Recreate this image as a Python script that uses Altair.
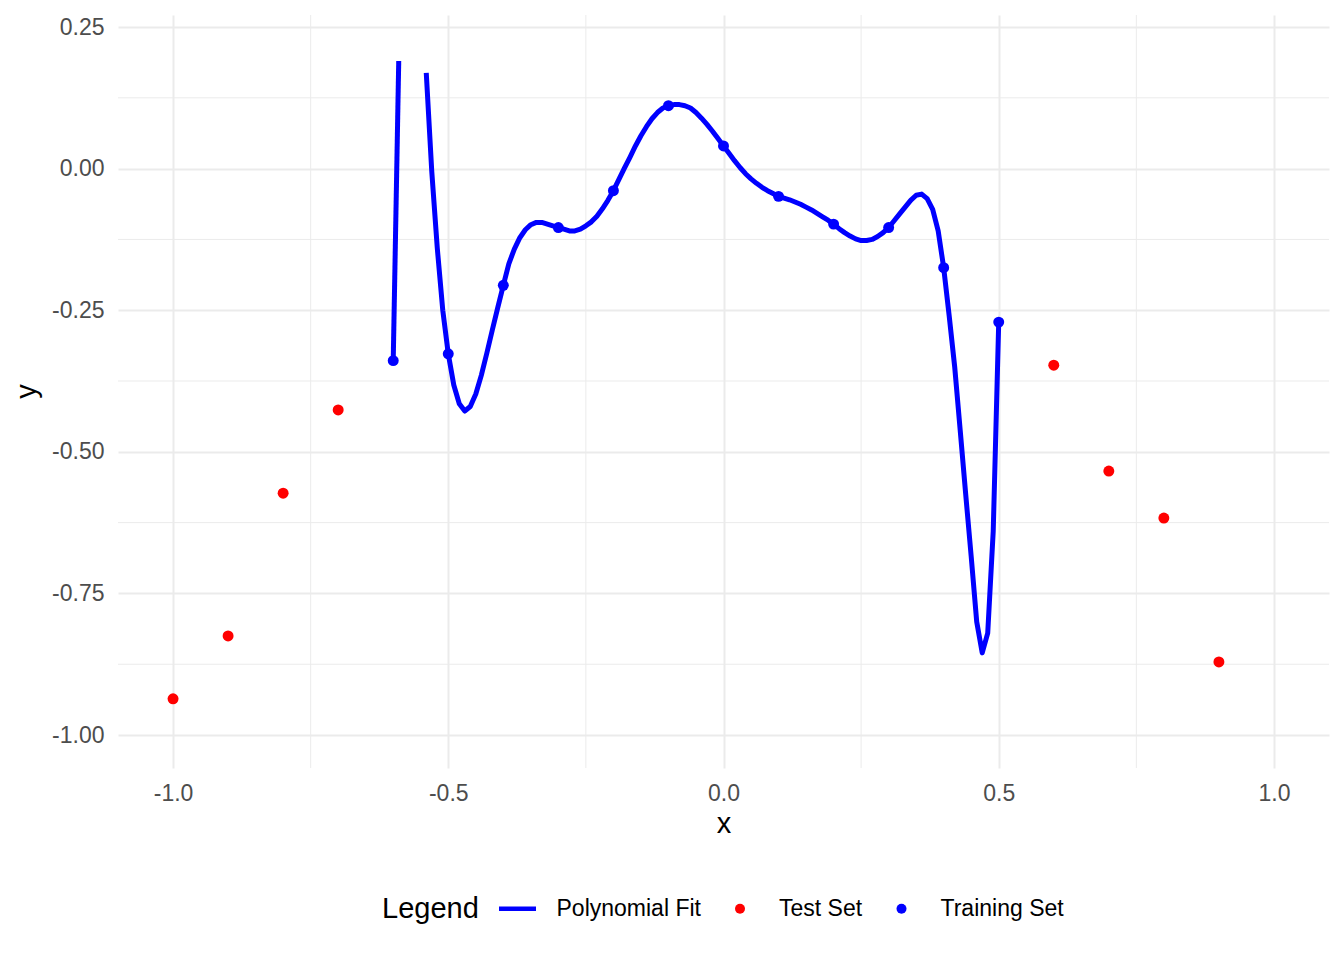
import altair as alt
import pandas as pd

# ---- data ----
train_x = [-0.6, -0.5, -0.4, -0.3, -0.2, -0.1, 0.0, 0.1, 0.2, 0.3, 0.4, 0.5]
train_y = [-0.339, -0.327, -0.206, -0.104, -0.039, 0.111, 0.040, -0.049, -0.098, -0.104, -0.175, -0.271]

test_x = [-1.0, -0.9, -0.8, -0.7, 0.6, 0.7, 0.8, 0.9]
test_y = [-0.936, -0.825, -0.573, -0.426, -0.347, -0.534, -0.617, -0.871]

fit_x = [-0.60, -0.59, -0.58, -0.57, -0.56, -0.55, -0.54, -0.53, -0.52, -0.51,
         -0.50, -0.49, -0.48, -0.47, -0.46, -0.45, -0.44, -0.43, -0.42, -0.41,
         -0.40, -0.39, -0.38, -0.37, -0.36, -0.35, -0.34, -0.33, -0.32, -0.31,
         -0.30, -0.29, -0.28, -0.27, -0.26, -0.25, -0.24, -0.23, -0.22, -0.21,
         -0.20, -0.19, -0.18, -0.17, -0.16, -0.15, -0.14, -0.13, -0.12, -0.11,
         -0.10, -0.09, -0.08, -0.07, -0.06, -0.05, -0.04, -0.03, -0.02, -0.01,
         0.00, 0.01, 0.02, 0.03, 0.04, 0.05, 0.06, 0.07, 0.08, 0.09,
         0.10, 0.11, 0.12, 0.13, 0.14, 0.15, 0.16, 0.17, 0.18, 0.19,
         0.20, 0.21, 0.22, 0.23, 0.24, 0.25, 0.26, 0.27, 0.28, 0.29,
         0.30, 0.31, 0.32, 0.33, 0.34, 0.35, 0.36, 0.37, 0.38, 0.39,
         0.40, 0.41, 0.42, 0.43, 0.44, 0.45, 0.46, 0.47, 0.48, 0.49, 0.50]
# None = value outside the y limits (dropped -> gap in the line)
fit_y = [-0.339, 0.190, None, None, None, None, 0.169, -0.005, -0.140, -0.250,
         -0.327, -0.382, -0.415, -0.428, -0.420, -0.398, -0.365, -0.326, -0.285, -0.245,
         -0.206, -0.168, -0.142, -0.122, -0.108, -0.099, -0.095, -0.095, -0.098, -0.101,
         -0.104, -0.107, -0.110, -0.110, -0.107, -0.101, -0.094, -0.084, -0.071, -0.056,
         -0.039, -0.019, 0.001, 0.020, 0.040, 0.058, 0.074, 0.088, 0.099, 0.107,
         0.111, 0.113, 0.113, 0.111, 0.107, 0.099, 0.089, 0.078, 0.066, 0.053,
         0.040, 0.027, 0.014, 0.002, -0.009, -0.018, -0.026, -0.033, -0.039, -0.044,
         -0.049, -0.052, -0.055, -0.059, -0.063, -0.068, -0.073, -0.079, -0.085, -0.091,
         -0.098, -0.106, -0.113, -0.119, -0.124, -0.127, -0.127, -0.125, -0.120, -0.113,
         -0.104, -0.092, -0.080, -0.068, -0.056, -0.047, -0.045, -0.053, -0.072, -0.110,
         -0.175, -0.260, -0.350, -0.462, -0.575, -0.685, -0.800, -0.855, -0.820, -0.640, -0.271]

x_ticks = [-1.0, -0.5, 0.0, 0.5, 1.0]
y_ticks = [-1.0, -0.75, -0.5, -0.25, 0.0, 0.25]
x_minor = [-0.75, -0.25, 0.25, 0.75]
y_minor = [-0.875, -0.625, -0.375, -0.125, 0.125]

legend_names = ["Polynomial Fit", "Test Set", "Training Set"]
legend_colors = ["#0000FF", "#FF0000", "#0000FF"]
legend_shapes = ["M-3.7,-0.45H3.7V0.45H-3.7Z", "circle", "circle"]

# ---- tables ----
fit_df = pd.DataFrame({"x": fit_x, "y": fit_y})
fit_df["seg"] = fit_df["y"].isna().cumsum()
fit_df = fit_df.dropna()

pts_df = pd.DataFrame({
    "x": test_x + train_x,
    "y": test_y + train_y,
    "set": ["Test Set"] * len(test_x) + ["Training Set"] * len(train_x),
})

GRID = "#EBEBEB"
MINUS = "\u2212"
FONT = "Liberation Sans"

xscale = alt.Scale(domain=[-1.1, 1.1], nice=False, zero=False)
yscale = alt.Scale(domain=[-1.0582, 0.2712], nice=False, zero=False)

xaxis = alt.Axis(
    values=x_ticks, labelExpr=f"replace(format(datum.value, '.1f'), '{MINUS}', '-')",
    grid=True, gridColor=GRID, gridWidth=2, domain=False, ticks=False, tickSize=0,
    labelFontSize=23, labelColor="#4D4D4D", labelPadding=14, labelFont=FONT,
    title="x", titleFontSize=29, titleFontWeight="normal", titleColor="black",
    titleBaseline="alphabetic", titleY=64, titleFont=FONT,
)
yaxis = alt.Axis(
    values=y_ticks, labelExpr=f"replace(format(datum.value, '.2f'), '{MINUS}', '-')",
    grid=True, gridColor=GRID, gridWidth=2, domain=False, ticks=False, tickSize=0,
    labelFontSize=23, labelColor="#4D4D4D", labelPadding=14, labelFont=FONT,
    title="y", titleFontSize=29, titleFontWeight="normal", titleColor="black",
    titleBaseline="alphabetic", titleX=-83, titleY=376, titleAngle=270,
    titleFont=FONT,
)

X = alt.X("x:Q", scale=xscale, axis=xaxis)
Y = alt.Y("y:Q", scale=yscale, axis=yaxis)

leg = alt.Legend(
    title="Legend", orient="none", legendX=264, legendY=882, direction="horizontal",
    titleOrient="left", titleFontSize=29, titleFontWeight="normal", titleColor="black",
    titleFont=FONT, titlePadding=27, titleAnchor="middle", titleBaseline="middle",
    labelFontSize=23, labelColor="black", labelFont=FONT, labelOffset=27.5,
    labelLimit=400, columnPadding=27.5, symbolSize=100, symbolStrokeWidth=0, symbolOpacity=1,
)

minor_x = alt.Chart(pd.DataFrame({"x": x_minor})).mark_rule(
    color=GRID, strokeWidth=1
).encode(x=X)

minor_y = alt.Chart(pd.DataFrame({"y": y_minor})).mark_rule(
    color=GRID, strokeWidth=1
).encode(y=Y)

line = alt.Chart(fit_df).mark_line(
    color="#0000FF", strokeWidth=5, strokeJoin="round"
).encode(x=X, y=Y, detail="seg:N", order="x:Q")

points = alt.Chart(pts_df).mark_point(filled=True, size=120, opacity=1).encode(
    x=X, y=Y,
    color=alt.Color("set:N", scale=alt.Scale(domain=legend_names, range=legend_colors), legend=leg),
    shape=alt.Shape("set:N", scale=alt.Scale(domain=legend_names, range=legend_shapes), legend=leg),
)

chart = alt.layer(minor_x, minor_y, line, points).properties(
    width=1211, height=753,
    autosize=alt.AutoSizeParams(type="none"),
    padding={"left": 110, "top": 7, "right": 7, "bottom": 170},
    background="white",
).configure(font=FONT).configure_view(stroke=None)

chart.save("out.html", embed_options={"renderer": "svg", "actions": False})
